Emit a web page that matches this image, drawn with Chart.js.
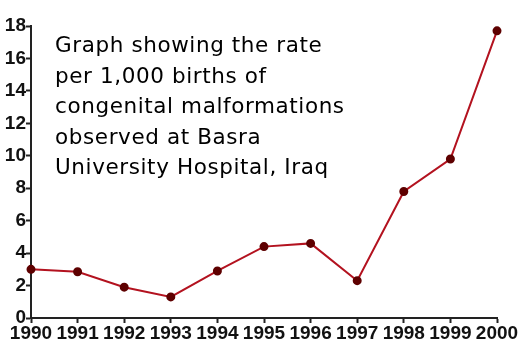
<!DOCTYPE html>
<html><head><meta charset="utf-8">
<script src="https://cdn.jsdelivr.net/npm/chart.js@4/dist/chart.umd.min.js"></script>
<style>
html,body{margin:0;padding:0;background:#fff;}
#wrap{position:relative;width:525px;height:355px;}
#note{position:absolute;left:55px;top:30px;font-family:"DejaVu Sans",Verdana,sans-serif;font-size:21.5px;letter-spacing:0.6px;line-height:30.5px;color:#000;white-space:pre;}
</style></head>
<body>
<div id="wrap"><canvas id="c" width="525" height="355"></canvas>
<div id="note">Graph showing the rate
per 1,000 births of
congenital malformations
observed at Basra
University Hospital, Iraq</div></div>
<script>
const years = ["1990","1991","1992","1993","1994","1995","1996","1997","1998","1999","2000"];
const ratePer1000 = [3.0, 2.85, 1.9, 1.3, 2.9, 4.4, 4.6, 2.3, 7.8, 9.8, 17.7];
const yTicks = [0,2,4,6,8,10,12,14,16,18];
const tickFont = {family:'"Liberation Sans",Arial,sans-serif', size:19, weight:'bold'};
new Chart(document.getElementById('c'), {
  type:'line',
  data:{labels:years, datasets:[{data:ratePer1000, borderColor:'#b3121f', borderWidth:2,
    pointBackgroundColor:'#5e0000', pointBorderColor:'#5e0000', pointRadius:3.5, tension:0}]},
  options:{responsive:false, animation:false,
    layout:{padding:{top:26,right:28,left:0,bottom:0}},
    plugins:{legend:{display:false}, tooltip:{enabled:false}},
    scales:{
      x:{offset:false, grid:{drawOnChartArea:false, color:'#222', tickLength:5, tickWidth:2},
        border:{color:'#222', width:2},
        ticks:{color:'#111', font:tickFont, maxRotation:0, autoSkip:false, padding:-1},
        afterFit:s=>{s.height=37;}},
      y:{min:0,max:18, grid:{drawOnChartArea:false, color:'#222', tickLength:5, tickWidth:2},
        border:{color:'#222', width:2},
        afterBuildTicks:s=>{s.ticks=yTicks.map(v=>({value:v}));},
        ticks:{color:'#111', font:tickFont, padding:0},
        afterFit:s=>{s.width=31;}}
    }}
});
</script></body></html>
